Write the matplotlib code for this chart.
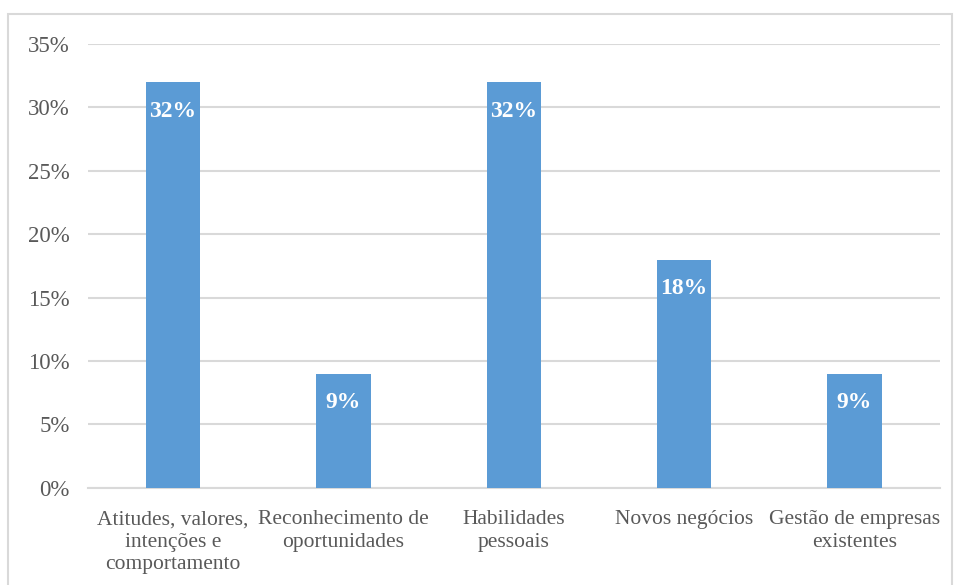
import matplotlib.pyplot as plt
from matplotlib.patches import Rectangle
import numpy as np

categories = ["Atitudes, valores,\nintenções e\ncomportamento",
              "Reconhecimento de\noportunidades",
              "Habilidades\npessoais",
              "Novos negócios",
              "Gestão de empresas\nexistentes"]
values = [32, 9, 32, 18, 9]
yticks = [0, 5, 10, 15, 20, 25, 30, 35]

plt.rcParams['font.family'] = ['Liberation Serif', 'DejaVu Serif']

fig = plt.figure(figsize=(9.55, 5.85), dpi=100)
ax = fig.add_axes([0.092, 0.166, 0.892, 0.759])

x = np.arange(len(categories))
ax.bar(x, values, width=0.32, color="#5B9BD5", zorder=3)

for xi, v in zip(x, values):
    ax.text(xi, v - 2.3, f"{v}%", ha="center", va="center", color="white",
            fontsize=17, fontweight="bold", zorder=4)

ax.set_xlim(-0.5, len(categories) - 0.5)
ax.set_ylim(0, 35)
ax.set_yticks(yticks)
ax.set_yticklabels([f"{t}%" for t in yticks], fontsize=16.5, color="#595959")
ax.set_xticks(x)
ax.set_xticklabels(categories, fontsize=15.5, color="#595959", linespacing=1.25)
ax.tick_params(axis="both", length=0)
ax.tick_params(axis="y", pad=13)
ax.tick_params(axis="x", pad=16)
ax.grid(axis="y", color="#D9D9D9", linewidth=1.5, zorder=0)
for s in ["top", "right", "left"]:
    ax.spines[s].set_visible(False)
ax.spines["bottom"].set_color("#D9D9D9")
ax.spines["bottom"].set_linewidth(1.5)

# outer chart border
fig.patches.append(Rectangle((8 / 955, -0.01), 944 / 955, 1 - 14 / 585 + 0.01,
                             transform=fig.transFigure, fill=False,
                             edgecolor="#D9D9D9", linewidth=1.5))

fig.savefig("out.png", dpi=100)
